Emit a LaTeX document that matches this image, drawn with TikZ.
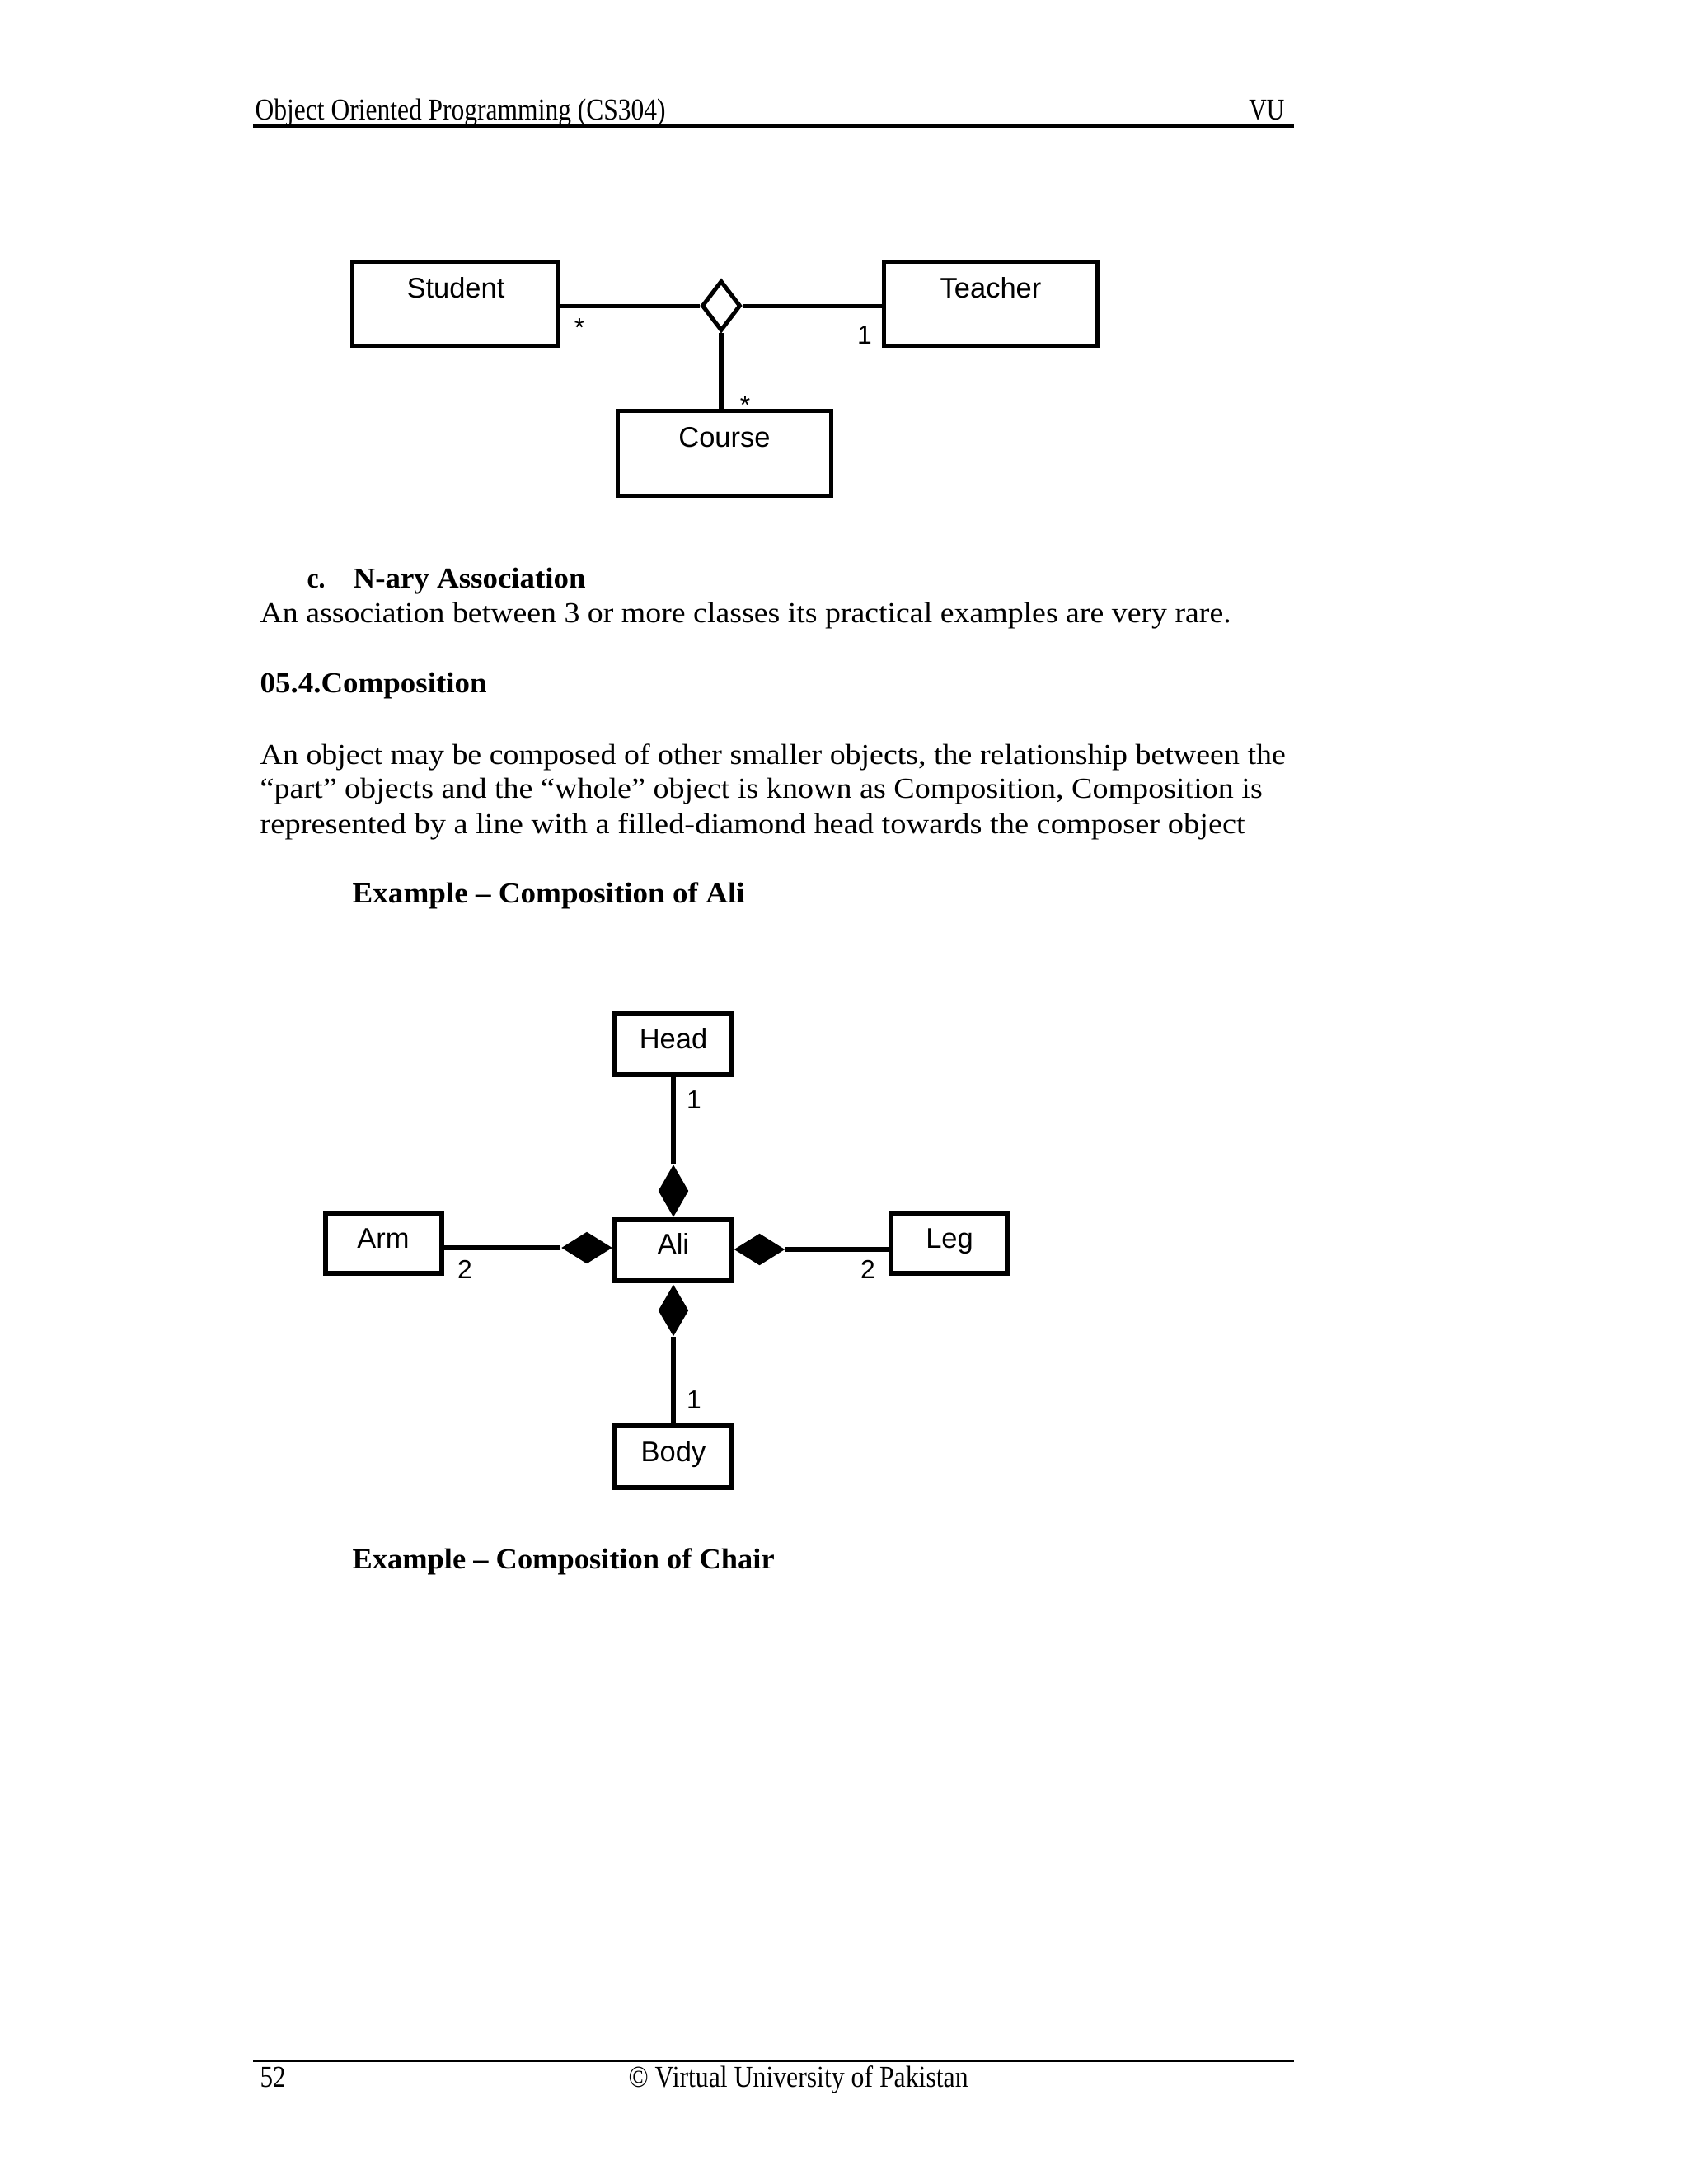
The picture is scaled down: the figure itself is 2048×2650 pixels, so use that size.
\documentclass[tikz,border=0pt]{standalone}
\usepackage{fontspec}
\usepackage{graphicx}
\setmainfont{Liberation Serif}
\newfontfamily\arialf{Liberation Sans}
\usetikzlibrary{shapes.geometric}
\newlength\pxl
\setlength\pxl{0.29885pt}
\newcommand{\fitto}[2]{\resizebox{#1\pxl}{\height}{#2}}
\begin{document}
\begin{tikzpicture}[x=0.29885pt,y=-0.29885pt,
  hdr/.style={inner sep=0pt, font=\fontsize{11}{13}\selectfont},
  body/.style={inner sep=0pt, anchor=base west, font=\fontsize{10.5}{12}\selectfont},
  bbody/.style={inner sep=0pt, anchor=base west, font=\fontsize{10.5}{12}\selectfont\bfseries},
  cls/.style={draw, rectangle, line width=1.5pt, inner sep=0pt},
  bcls/.style={draw, rectangle, line width=1.85pt, inner sep=0pt},
  lbl/.style={inner sep=0pt, anchor=base, font=\arialf\fontsize{10.3}{12}\selectfont},
  mult/.style={inner sep=0pt, anchor=base, font=\arialf\fontsize{9.5}{11}\selectfont},
  conn/.style={line width=1.5pt},
  bconn/.style={line width=1.6pt},
  comp/.style={diamond, fill=black, draw=none, inner sep=0pt}]

\useasboundingbox[fill=white] (0,0) rectangle (2048,2650);

% header and footer
\node[hdr, anchor=base west] (htitle) at (309,145) {\fitto{498}{Object Oriented Programming (CS304)}};
\node[hdr, anchor=base east] (hvu) at (1559,145) {\fitto{43}{VU}};
\draw[line width=1pt] (307,153) -- (1570,153);
\draw[line width=1pt] (307,2500.5) -- (1570,2500.5);
\node[hdr, anchor=base west] (pgno) at (315,2532) {\fitto{31}{52}};
\node[hdr, anchor=base west] (copyr) at (762,2532) {\fitto{412}{© Virtual University of Pakistan}};

% N-ary association diagram
\node[cls, minimum width=249*\pxl, minimum height=102*\pxl] (student) at (552,368.5) {};
\node[cls, minimum width=259*\pxl, minimum height=102*\pxl] (teacher) at (1202,368.5) {};
\node[cls, minimum width=259*\pxl, minimum height=103*\pxl] (course) at (879,550) {};
\node[diamond, draw, line width=1.5pt, inner sep=0pt, minimum width=47*\pxl, minimum height=61*\pxl] (dia) at (875,371) {};
\draw[conn] (dia.west) -- (dia.west -| student.east);
\draw[conn] (dia.east) -- (dia.east -| teacher.west);
\draw[conn] (dia.south) -- (dia.south |- course.north);
\node[lbl] (tstudent) at (553,361) {Student};
\node[lbl] (tteacher) at (1202,361) {Teacher};
\node[lbl] (tcourse) at (879,542) {Course};
\node[mult] (ms) at (703,408) {*};
\node[mult] (mt) at (1049,417) {1};
\node[mult] (mc) at (904,502) {*};

% text
\node[bbody] (cmark) at (372,713) {\fitto{22}{c.}};
\node[bbody] (nary) at (428,713) {\fitto{282}{N-ary Association}};
\node[body] (l1) at (315,755) {\fitto{1178}{An association between 3 or more classes its practical examples are very rare.}};
\node[bbody] (sec) at (315,840) {\fitto{275}{05.4.Composition}};
\node[body] (l2) at (315,927) {\fitto{1244}{An object may be composed of other smaller objects, the relationship between the}};
\node[body] (l3) at (315,968) {\fitto{1216}{“part” objects and the “whole” object is known as Composition, Composition is}};
\node[body] (l4) at (315,1011) {\fitto{1195}{represented by a line with a filled-diamond head towards the composer object}};
\node[bbody] (ex1) at (427,1095) {\fitto{476}{Example – Composition of Ali}};
\node[bbody] (ex2) at (427,1903) {\fitto{512}{Example – Composition of Chair}};

% Composition of Ali diagram
\node[bcls, minimum width=142*\pxl, minimum height=74*\pxl] (head) at (817,1267) {};
\node[bcls, minimum width=142*\pxl, minimum height=74*\pxl] (ali) at (817,1517) {};
\node[bcls, minimum width=141*\pxl, minimum height=73*\pxl] (arm) at (465.5,1508.5) {};
\node[bcls, minimum width=141*\pxl, minimum height=73*\pxl] (leg) at (1151.5,1508.5) {};
\node[bcls, minimum width=142*\pxl, minimum height=75*\pxl] (body) at (817,1767.5) {};
\node[comp, minimum width=37*\pxl, minimum height=64*\pxl] (dh) at (817,1445) {};
\node[comp, minimum width=37*\pxl, minimum height=63*\pxl] (db) at (817,1590) {};
\node[comp, minimum width=62*\pxl, minimum height=39*\pxl] (dl) at (712,1514) {};
\node[comp, minimum width=62*\pxl, minimum height=39*\pxl] (dr) at (921.5,1516) {};
\draw[bconn] (dh.north) -- (dh.north |- head.south);
\draw[bconn] (db.south) -- (db.south |- body.north);
\draw[bconn] (dl.west) -- (dl.west -| arm.east);
\draw[bconn] (dr.east) -- (dr.east -| leg.west);
\node[lbl] (thead) at (817,1272) {Head};
\node[lbl] (tali) at (817,1521) {Ali};
\node[lbl] (tarm) at (465,1514) {Arm};
\node[lbl] (tleg) at (1152,1514) {Leg};
\node[lbl] (tbody) at (817,1773) {Body};
\node[mult] (mh) at (842,1345) {1};
\node[mult] (mb) at (842,1709) {1};
\node[mult] (ma) at (564,1551) {2};
\node[mult] (ml) at (1053,1551) {2};
\end{tikzpicture}
\end{document}
